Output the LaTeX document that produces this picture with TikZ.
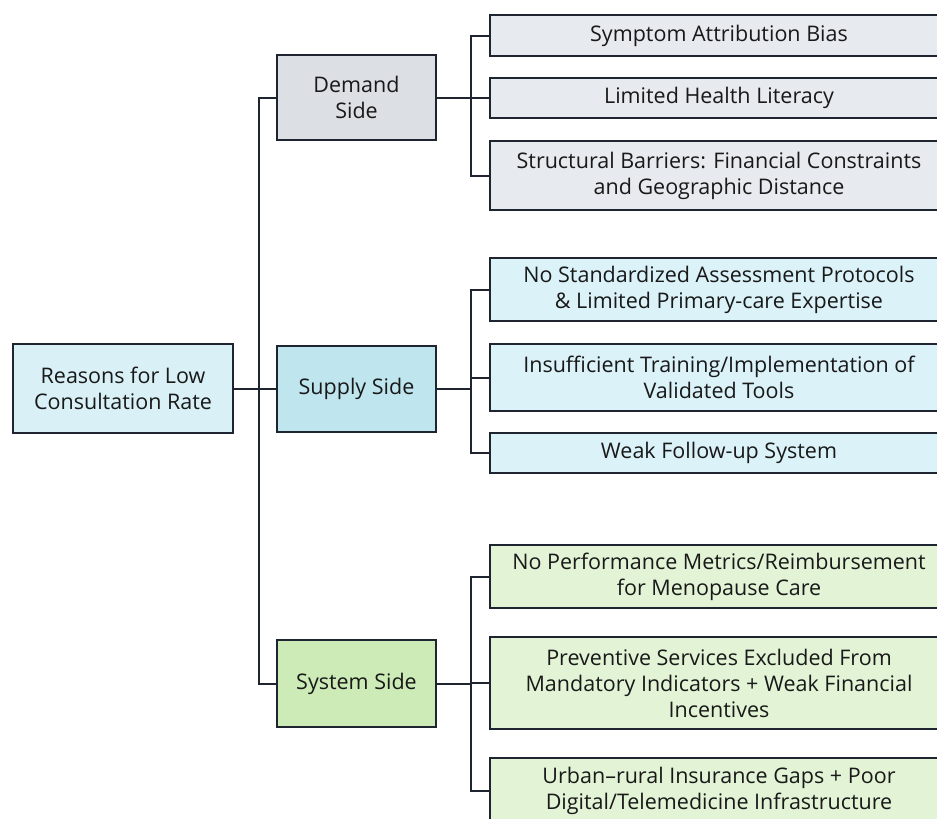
\documentclass[tikz,border=0pt]{standalone}
\usepackage{fontspec}
\setmainfont{Open Sans}
\definecolor{linec}{HTML}{1E2430}
\definecolor{rootc}{HTML}{D9F1F6}
\definecolor{demc}{HTML}{DCDFE3}
\definecolor{demleaf}{HTML}{E7EAEE}
\definecolor{supc}{HTML}{BFE6EF}
\definecolor{supleaf}{HTML}{DAF2F8}
\definecolor{sysc}{HTML}{CCEBB6}
\definecolor{sysleaf}{HTML}{E3F4D6}
\begin{document}
\begin{tikzpicture}[
  x=1pt, y=-1pt,
  box/.style={draw=linec, line width=2pt, align=center, inner sep=0pt,
    font=\fontsize{21.5}{26}\selectfont, text=black!90},
  side/.style={box, minimum width=159pt},
  leaf/.style={box, minimum width=458pt, anchor=west},
  link/.style={draw=linec, line width=2pt}
]
\clip (0,0) rectangle (937,819);
\fill[white] (0,0) rectangle (937,819);
% root and the three sides
\node[box, fill=rootc, minimum width=220pt, minimum height=89pt] (root) at (123,388.5) {Reasons for Low\\Consultation Rate};
\node[side, fill=demc, minimum height=85pt] (demand) at (356.5,97.5) {Demand\\Side};
\node[side, fill=supc, minimum height=86pt] (supply) at (356.5,389) {Supply Side};
\node[side, fill=sysc, minimum height=87pt] (system) at (356.5,683.5) {System Side};
% demand leaves
\node[leaf, fill=demleaf, minimum height=41pt] (d1) at (489,35.5) {Symptom Attribution Bias};
\node[leaf, fill=demleaf, minimum height=40pt] (d2) at (489,98) {Limited Health Literacy};
\node[leaf, fill=demleaf, minimum height=69pt] (d3) at (489,175.5) {Structural Barriers: Financial Constraints\\and Geographic Distance};
% supply leaves
\node[leaf, fill=supleaf, minimum height=63pt] (s1) at (489,289.5) {No Standardized Assessment Protocols\\\& Limited Primary-care Expertise};
\node[leaf, fill=supleaf, minimum height=67pt] (s2) at (489,377.5) {Insufficient Training/Implementation of\\Validated Tools};
\node[leaf, fill=supleaf, minimum height=40pt] (s3) at (489,453) {Weak Follow-up System};
% system leaves
\node[leaf, fill=sysleaf, minimum height=63pt] (y1) at (489,576.5) {No Performance Metrics/Reimbursement\\for Menopause Care};
\node[leaf, fill=sysleaf, minimum height=92pt] (y2) at (489,683) {Preventive Services Excluded From\\Mandatory Indicators + Weak Financial\\Incentives};
\node[leaf, fill=sysleaf, minimum height=67pt] (y3) at (489,791) {Urban--rural Insurance Gaps + Poor\\Digital/Telemedicine Infrastructure};
% connectors
\foreach \s in {demand,supply,system}
  \draw[link] (root.east) -- ++(25,0) |- (\s.west);
\foreach \p/\c in {demand/d1,demand/d2,demand/d3,supply/s1,supply/s2,supply/s3,system/y1,system/y2,system/y3}
  \draw[link] (\p.east) -- ++(34,0) |- (\c.west);
\end{tikzpicture}
\end{document}
